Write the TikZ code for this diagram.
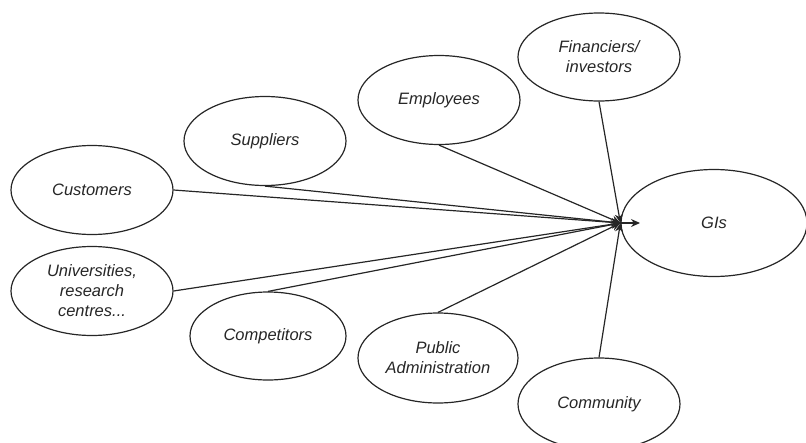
\documentclass[tikz,border=0pt]{standalone}
\usepackage{fontspec}
\setmainfont{Liberation Sans}
\usetikzlibrary{shapes.geometric,arrows.meta}
\begin{document}
\begin{tikzpicture}[x=1pt,y=-1pt,
  oval/.style={draw=black!85,line width=1.2pt,ellipse,inner sep=0pt,
    minimum width=162pt,minimum height=89pt,align=center,
    font=\fontsize{16.5}{20}\selectfont\itshape,text=black!85},
  link/.style={draw=black!85,line width=1.2pt,-{Stealth[length=9pt,width=8pt]}}]
\useasboundingbox (0,0) rectangle (806,442);
\node[oval] (cus) at (92,190) {Customers};
\node[oval] (uni) at (92,291) {Universities,\\research\\centres...};
\node[oval] (sup) at (265,141) {Suppliers};
\node[oval] (emp) at (439,100) {Employees};
\node[oval,minimum height=88pt] (fin) at (599,57) {Financiers/\\investors};
\node[oval,minimum width=156pt,minimum height=88pt] (com) at (268,336) {Competitors};
\node[oval,minimum width=160pt,minimum height=90pt] (pub) at (438,358) {Public\\Administration};
\node[oval,minimum height=92pt] (cty) at (599,404) {Community};
\node[oval,minimum width=186pt,minimum height=107pt] (gis) at (714,223) {GIs};
\coordinate (tip) at (640,223);
\draw[link] (cus.east) -- (gis.west);
\draw[link] (uni.east) -- (gis.west);
\draw[link] (sup.south) -- (gis.west);
\draw[link] (emp.south) -- (gis.west);
\draw[link] (fin.south) -- (gis.west);
\draw[link] (com.north) -- (gis.west);
\draw[link] (pub.north) -- (gis.west);
\draw[link] (cty.north) -- (gis.west);
\draw[link] (gis.west) -- (tip);
\end{tikzpicture}
\end{document}
